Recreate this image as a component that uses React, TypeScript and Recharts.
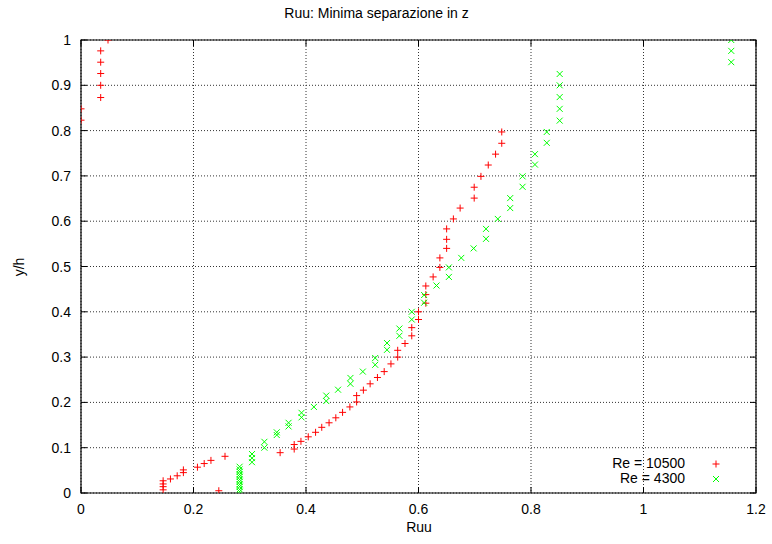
import { ScatterChart, Scatter, XAxis, YAxis, CartesianGrid, ReferenceArea, Legend } from "recharts";

// Re = 10500
const redX = [
  0.146, 0.146, 0.146, 0.146, 0.159, 0.171, 0.182, 0.182, 0.207, 0.219, 0.231, 0.245, 0.256,
  0.354, 0.379, 0.379, 0.391, 0.404, 0.417, 0.428, 0.441, 0.453, 0.465, 0.478, 0.49, 0.49,
  0.502, 0.514, 0.527, 0.539, 0.551, 0.563, 0.563, 0.576, 0.588, 0.588, 0.6, 0.6, 0.613,
  0.613, 0.613, 0.626, 0.638, 0.638, 0.65, 0.65, 0.65, 0.662, 0.674, 0.699, 0.699, 0.711,
  0.724, 0.737, 0.748, 0.748, 0, 0, 0.035, 0.035, 0.035, 0.035, 0.035, 0.048,
];
const redY = [
  0.007, 0.014, 0.02, 0.027, 0.031, 0.038, 0.045, 0.051, 0.057, 0.065, 0.072, 0.005, 0.081,
  0.089, 0.097, 0.107, 0.114, 0.124, 0.134, 0.145, 0.155, 0.166, 0.178, 0.19, 0.201, 0.215,
  0.227, 0.241, 0.255, 0.268, 0.285, 0.3, 0.315, 0.33, 0.347, 0.365, 0.383, 0.4, 0.419,
  0.438, 0.457, 0.477, 0.498, 0.519, 0.54, 0.56, 0.583, 0.605, 0.629, 0.651, 0.675, 0.699,
  0.724, 0.748, 0.772, 0.797, 0.823, 0.848, 0.873, 0.9, 0.926, 0.951, 0.976, 1.0,
];

// Re = 4300
const greenX = [
  0.282, 0.282, 0.282, 0.282, 0.282, 0.282, 0.282, 0.282, 0.282, 0.282, 0.282,
  0.304, 0.304, 0.304, 0.326, 0.326, 0.348, 0.348, 0.369, 0.369, 0.392, 0.392, 0.414,
  0.436, 0.436, 0.457, 0.479, 0.479, 0.501, 0.523, 0.523, 0.544, 0.544, 0.566, 0.566,
  0.588, 0.588, 0.61, 0.61, 0.632, 0.654, 0.654, 0.676, 0.698, 0.72, 0.72, 0.741, 0.763,
  0.763, 0.785, 0.785, 0.807, 0.807, 0.828, 0.828, 0.851, 0.851, 0.851, 0.851, 0.851,
  1.156, 1.156, 1.156,
];
const greenY = [
  0.003, 0.008, 0.014, 0.019, 0.025, 0.03, 0.036, 0.041, 0.047, 0.052, 0.058,
  0.068, 0.077, 0.086, 0.1, 0.113, 0.128, 0.134, 0.147, 0.155, 0.167, 0.177, 0.19,
  0.203, 0.215, 0.228, 0.241, 0.254, 0.268, 0.283, 0.298, 0.316, 0.331, 0.347, 0.363,
  0.383, 0.4, 0.42, 0.437, 0.458, 0.477, 0.498, 0.519, 0.54, 0.561, 0.583, 0.605, 0.629,
  0.651, 0.676, 0.699, 0.725, 0.748, 0.773, 0.797, 0.822, 0.848, 0.874, 0.9, 0.925,
  0.951, 0.976, 1.0,
];

const xTicks = [0, 0.2, 0.4, 0.6, 0.8, 1, 1.2];
const yTicks = [0, 0.1, 0.2, 0.3, 0.4, 0.5, 0.6, 0.7, 0.8, 0.9, 1];

const seriesNames = ["Re = 10500", "Re = 4300"];

const red = redX.map((x, i) => ({ x, y: redY[i] }));
const green = greenX.map((x, i) => ({ x, y: greenY[i] }));

const W = 772;
const H = 544;
const margin = { top: 40, right: 16, bottom: 21, left: 0 };
const yAxisW = 81;
const xAxisH = 30;
const plotW = W - margin.left - margin.right - yAxisW;
const plotH = H - margin.top - margin.bottom - xAxisH;
const gap = 10;
const tickLen = 6;
const font = "'Liberation Sans', Arial, sans-serif";

const Plus = (props: any) => {
  const { cx, cy } = props;
  return (
    <path
      d={`M${cx - 3.5},${cy}H${cx + 3.5}M${cx},${cy - 3.5}V${cy + 3.5}`}
      stroke="#ff0000"
      strokeWidth={1}
      fill="none"
    />
  );
};

const Cross = (props: any) => {
  const { cx, cy } = props;
  return (
    <path
      d={`M${cx - 3},${cy - 3}L${cx + 3},${cy + 3}M${cx - 3},${cy + 3}L${cx + 3},${cy - 3}`}
      stroke="#00ff00"
      strokeWidth={1}
      fill="none"
    />
  );
};

const YTick = (props: any) => {
  const { x, y, payload } = props;
  const ax = x + gap;
  return (
    <g>
      <text x={x} y={y} textAnchor="end" dominantBaseline="central" fontSize={14} fontFamily={font} fill="#000">
        {payload.value}
      </text>
      <line x1={ax} x2={ax + tickLen} y1={y} y2={y} stroke="#000" />
      <line x1={ax + plotW - tickLen} x2={ax + plotW} y1={y} y2={y} stroke="#000" />
    </g>
  );
};

const XTick = (props: any) => {
  const { x, y, payload } = props;
  const ay = y - gap;
  return (
    <g>
      <text x={x} y={y} dy="0.75em" textAnchor="middle" fontSize={14} fontFamily={font} fill="#000">
        {payload.value}
      </text>
      <line x1={x} x2={x} y1={ay} y2={ay - tickLen} stroke="#000" />
      <line x1={x} x2={x} y1={ay - plotH} y2={ay - plotH + tickLen} stroke="#000" />
    </g>
  );
};

const LegendBox = () => (
  <div style={{ fontFamily: font, fontSize: 14, lineHeight: "15px" }}>
    {seriesNames.map((name, i) => (
      <div key={name} style={{ display: "flex", alignItems: "center", height: 15 }}>
        <span style={{ width: 105, textAlign: "right" }}>{name}</span>
        <svg width={14} height={14} style={{ marginLeft: 24 }}>
          {i === 0 ? <Plus cx={7} cy={7} /> : <Cross cx={7} cy={7} />}
        </svg>
      </div>
    ))}
  </div>
);

export default function App() {
  return (
    <div style={{ position: "absolute", left: 0, top: 0, width: W, height: H, background: "#fff", fontFamily: font }}>
      <div style={{ position: "absolute", left: 0, width: 753, top: 4, textAlign: "center", fontSize: 14, lineHeight: "18px" }}>
        Ruu: Minima separazione in z
      </div>
      <div style={{ position: "absolute", left: 0, width: 838, top: 518, textAlign: "center", fontSize: 14, lineHeight: "18px" }}>
        Ruu
      </div>
      <div
        style={{
          position: "absolute",
          left: 19,
          top: 267,
          fontSize: 14,
          lineHeight: "18px",
          transform: "translate(-50%, -50%) rotate(-90deg)",
          whiteSpace: "nowrap",
        }}
      >
        y/h
      </div>
      <ScatterChart width={W} height={H} margin={margin}>
        <CartesianGrid stroke="#333" strokeDasharray="1 2" />
        <XAxis
          type="number"
          dataKey="x"
          domain={[0, 1.2]}
          ticks={xTicks}
          interval={0}
          height={xAxisH}
          tickSize={0}
          tickMargin={gap}
          axisLine={false}
          tick={<XTick />}
          allowDataOverflow
        />
        <YAxis
          type="number"
          dataKey="y"
          domain={[0, 1]}
          ticks={yTicks}
          interval={0}
          width={yAxisW}
          tickSize={0}
          tickMargin={gap}
          axisLine={false}
          tick={<YTick />}
          allowDataOverflow
        />
        <ReferenceArea x1={0} x2={1.2} y1={0} y2={1} fill="none" stroke="#000" strokeWidth={1.2} />
        <Scatter data={red} shape={<Plus />} isAnimationActive={false} />
        <Scatter data={green} shape={<Cross />} isAnimationActive={false} />
        <Legend
          layout="vertical"
          align="center"
          verticalAlign="middle"
          content={<LegendBox />}
          wrapperStyle={{ left: 580, top: 456, width: 160, height: 32 }}
        />
      </ScatterChart>
    </div>
  );
}
